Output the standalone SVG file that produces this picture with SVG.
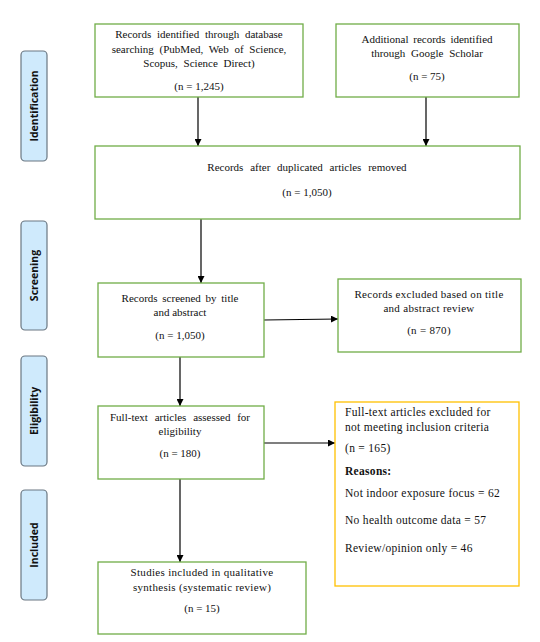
<svg xmlns="http://www.w3.org/2000/svg" width="540" height="642" viewBox="0 0 540 642">
<style>
.bg{fill:#ffffff}
.box{fill:#ffffff;stroke:#70ad47;stroke-width:1.3}
.obox{fill:#ffffff;stroke:#ffc000;stroke-width:1.3}
.side{fill:#cfeafc;stroke:#6a7782;stroke-width:1.2}
.t{font-family:"Liberation Serif","Times New Roman",serif;font-size:11px;fill:#111111;text-anchor:middle}
.l{font-family:"Liberation Serif","Times New Roman",serif;font-size:11.5px;fill:#111111;letter-spacing:0.3px}
.b{font-weight:bold}
.s{font-family:"Open Sans","DejaVu Sans",sans-serif;font-size:10.5px;font-weight:bold;fill:#111111;text-anchor:middle}
.c{stroke:#000000;stroke-width:1.2;fill:none;marker-end:url(#ah)}
</style>
<defs>
<marker id="ah" viewBox="0 0 8 8" refX="8" refY="4" markerWidth="7" markerHeight="7" markerUnits="userSpaceOnUse" orient="auto">
<path d="M0,0 L8,4 L0,8 Z" fill="#000000"/>
</marker>
</defs>
<rect class="bg" x="0" y="0" width="540" height="642"/>

<g id="side-identification">
<rect class="side" x="21" y="51" width="26" height="110" rx="4"/>
<text class="s" transform="translate(38,106) rotate(-90)">Identification</text>
</g>
<g id="side-screening">
<rect class="side" x="21" y="221" width="26" height="109" rx="4"/>
<text class="s" transform="translate(38,275.5) rotate(-90)">Screening</text>
</g>
<g id="side-eligibility">
<rect class="side" x="21" y="356" width="26" height="110" rx="4"/>
<text class="s" transform="translate(38,411) rotate(-90)">Eligibility</text>
</g>
<g id="side-included">
<rect class="side" x="21" y="490" width="26" height="110" rx="4"/>
<text class="s" transform="translate(38,545) rotate(-90)">Included</text>
</g>

<g id="connectors">
<line class="c" x1="198" y1="97" x2="198" y2="146"/>
<line class="c" x1="426" y1="97" x2="426" y2="146"/>
<line class="c" x1="201" y1="219" x2="201" y2="283"/>
<line class="c" x1="264" y1="320" x2="338" y2="319"/>
<line class="c" x1="180" y1="357" x2="180" y2="406"/>
<line class="c" x1="264" y1="443" x2="335" y2="443"/>
<line class="c" x1="180" y1="479" x2="180" y2="562"/>
</g>

<g id="records-identified">
<rect class="box" x="95" y="24" width="208" height="73"/>
<text class="t" x="199" y="38" word-spacing="3">Records identified through database</text>
<text class="t" x="199" y="53" word-spacing="3">searching (PubMed, Web of Science,</text>
<text class="t" x="199" y="67" word-spacing="3">Scopus, Science Direct)</text>
<text class="t" x="199" y="90">(n = 1,245)</text>
</g>

<g id="additional-records">
<rect class="box" x="336" y="24" width="183" height="73"/>
<text class="t" x="427" y="43" word-spacing="2">Additional records identified</text>
<text class="t" x="427" y="57" word-spacing="3">through Google Scholar</text>
<text class="t" x="427" y="80">(n = 75)</text>
</g>

<g id="after-duplicates">
<rect class="box" x="95" y="146" width="425" height="73"/>
<text class="t" x="307" y="171" word-spacing="4">Records after duplicated articles removed</text>
<text class="t" x="307" y="196">(n = 1,050)</text>
</g>

<g id="records-screened">
<rect class="box" x="98" y="283" width="166" height="74"/>
<text class="t" x="180" y="302" word-spacing="2">Records screened by title</text>
<text class="t" x="180" y="316">and abstract</text>
<text class="t" x="180" y="339">(n = 1,050)</text>
</g>

<g id="records-excluded">
<rect class="box" x="338" y="279" width="183" height="73"/>
<text class="t" x="429" y="298" letter-spacing="0.3">Records excluded based on title</text>
<text class="t" x="429" y="312" letter-spacing="0.3">and abstract review</text>
<text class="t" x="429" y="334" letter-spacing="0.3">(n = 870)</text>
</g>

<g id="full-text-assessed">
<rect class="box" x="98" y="406" width="166" height="73"/>
<text class="t" x="180" y="421" word-spacing="4">Full-text articles assessed for</text>
<text class="t" x="180" y="435">eligibility</text>
<text class="t" x="180" y="457">(n = 180)</text>
</g>

<g id="full-text-excluded">
<rect class="obox" x="335" y="402" width="184" height="184"/>
<text class="l" x="345" y="416">Full-text articles excluded for</text>
<text class="l" x="345" y="431">not meeting inclusion criteria</text>
<text class="l" x="345" y="452">(n = 165)</text>
<text class="l b" x="345" y="475">Reasons:</text>
<text class="l" x="345" y="497">Not indoor exposure focus = 62</text>
<text class="l" x="345" y="524">No health outcome data = 57</text>
<text class="l" x="345" y="552">Review/opinion only = 46</text>
</g>

<g id="studies-included">
<rect class="box" x="98" y="562" width="208" height="72"/>
<text class="t" x="202" y="576" letter-spacing="0.3">Studies included in qualitative</text>
<text class="t" x="202" y="591" letter-spacing="0.3">synthesis (systematic review)</text>
<text class="t" x="202" y="612">(n = 15)</text>
</g>
</svg>
